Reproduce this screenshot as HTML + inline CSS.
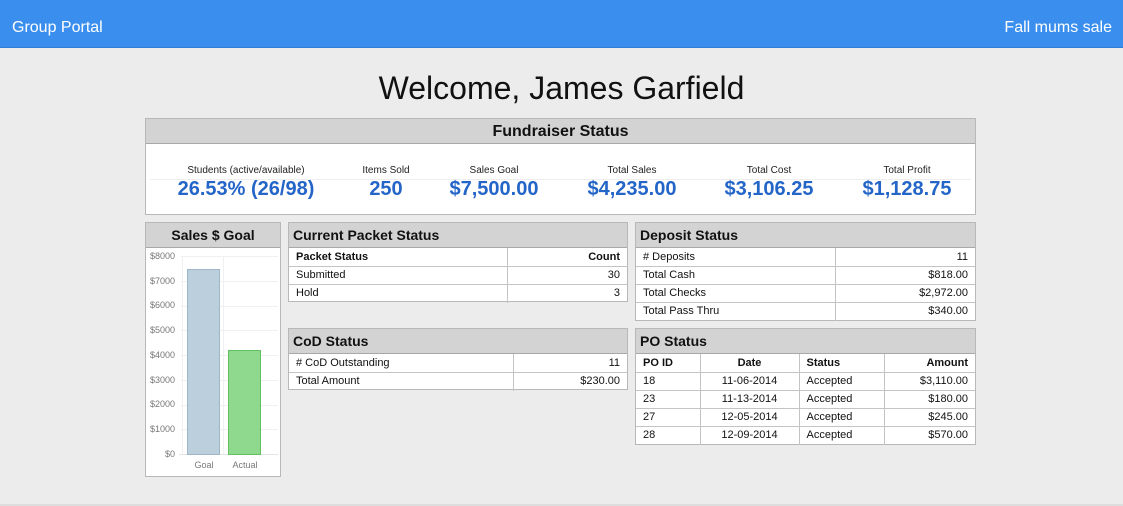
<!DOCTYPE html>
<html><head><meta charset="utf-8"><style>
*{margin:0;padding:0;box-sizing:border-box}
body{width:1123px;height:506px;background:#ececec;font-family:"Liberation Sans",sans-serif;position:relative;overflow:hidden;color:#111}
.top{position:absolute;left:0;top:0;width:1123px;height:48px;background:#3a8fee;color:#fff;font-size:16px;border-bottom:1px solid #2f7fd8}
.top .l{position:absolute;left:12px;top:19px}
.top .r{position:absolute;right:11px;top:19px}
h1{position:absolute;left:0;width:1123px;top:70px;text-align:center;font-weight:normal;font-size:32px;color:#111}
.box{position:absolute;background:#fff;border:1px solid #b8b8b8}
.hd{background:#d3d3d3;border-bottom:1px solid #a8a8a8;font-weight:bold;height:25px;line-height:25px;font-size:15px;padding-left:4px}
.c{text-align:center;padding-left:0;font-size:16px}
.st{position:absolute;top:46px;text-align:center;width:200px;margin-left:-100px}
.st .a{font-size:10px;color:#222}
.st .b{font-size:20px;font-weight:bold;color:#2465c8;margin-top:2px}
table{border-collapse:collapse;width:100%;table-layout:fixed;font-size:11px}
td{border:1px solid #c4c4c4;height:18px;padding:0 7px;line-height:17px;white-space:nowrap}
tr:first-child td{border-top:none;height:18px;line-height:18px}
td:first-child{border-left:none}
td:last-child{border-right:none}
tr:last-child td{border-bottom:none}
.rt{text-align:right}.cn{text-align:center}
.bh td{font-weight:bold}
.ax{position:absolute;font-size:9px;color:#777;text-align:right;width:30px}
</style></head><body>
<div class="top"><span class="l">Group Portal</span><span class="r">Fall mums sale</span></div>
<h1>Welcome, James Garfield</h1>

<div class="box" style="left:145px;top:118px;width:831px;height:97px">
<div class="hd c" style="font-size:16px">Fundraiser Status</div>
<div style="position:absolute;left:4px;right:4px;top:60px;border-top:1px solid #eee"></div>
<div class="st" style="left:100px"><div class="a">Students (active/available)</div><div class="b">26.53% (26/98)</div></div>
<div class="st" style="left:240px"><div class="a">Items Sold</div><div class="b">250</div></div>
<div class="st" style="left:348px"><div class="a">Sales Goal</div><div class="b">$7,500.00</div></div>
<div class="st" style="left:486px"><div class="a">Total Sales</div><div class="b">$4,235.00</div></div>
<div class="st" style="left:623px"><div class="a">Total Cost</div><div class="b">$3,106.25</div></div>
<div class="st" style="left:761px"><div class="a">Total Profit</div><div class="b">$1,128.75</div></div>
</div>

<div class="box" style="left:145px;top:222px;width:136px;height:255px">
<div class="hd c" style="font-size:14px">Sales $ Goal</div>
</div>
<svg style="position:absolute;left:0;top:0" width="1123" height="506">
<g stroke="#f0f0f0" stroke-width="1">
<line x1="181" y1="256.5" x2="278" y2="256.5"/><line x1="181" y1="281.5" x2="278" y2="281.5"/><line x1="181" y1="306.5" x2="278" y2="306.5"/><line x1="181" y1="330.5" x2="278" y2="330.5"/><line x1="181" y1="355.5" x2="278" y2="355.5"/><line x1="181" y1="380.5" x2="278" y2="380.5"/><line x1="181" y1="405.5" x2="278" y2="405.5"/><line x1="181" y1="429.5" x2="278" y2="429.5"/>
<line x1="182.5" y1="256" x2="182.5" y2="455"/><line x1="223.5" y1="256" x2="223.5" y2="455"/>
</g>
<line x1="179" y1="454.5" x2="278" y2="454.5" stroke="#e4e4e4"/>
<rect x="187.5" y="269.5" width="32" height="185" fill="#bccfdd" stroke="#9fb6c8"/>
<rect x="228.5" y="350.5" width="32" height="104" fill="#8fd98f" stroke="#62bf62"/>
</svg>
<div class="ax" style="left:145px;top:251px">$8000</div>
<div class="ax" style="left:145px;top:276px">$7000</div>
<div class="ax" style="left:145px;top:300px">$6000</div>
<div class="ax" style="left:145px;top:325px">$5000</div>
<div class="ax" style="left:145px;top:350px">$4000</div>
<div class="ax" style="left:145px;top:375px">$3000</div>
<div class="ax" style="left:145px;top:399px">$2000</div>
<div class="ax" style="left:145px;top:424px">$1000</div>
<div class="ax" style="left:145px;top:449px">$0</div>
<div class="ax" style="left:189px;top:460px;width:30px;text-align:center">Goal</div>
<div class="ax" style="left:227px;top:460px;width:36px;text-align:center">Actual</div>

<div class="box" style="left:288px;top:222px;width:340px;height:80px">
<div class="hd" style="font-size:14px">Current Packet Status</div>
<table><col style="width:218px"><col>
<tr class="bh"><td>Packet Status</td><td class="rt">Count</td></tr>
<tr><td>Submitted</td><td class="rt">30</td></tr>
<tr><td>Hold</td><td class="rt">3</td></tr></table>
</div>

<div class="box" style="left:288px;top:328px;width:340px;height:62px">
<div class="hd" style="font-size:14px">CoD Status</div>
<table><col style="width:224px"><col>
<tr><td># CoD Outstanding</td><td class="rt">11</td></tr>
<tr><td>Total Amount</td><td class="rt">$230.00</td></tr></table>
</div>

<div class="box" style="left:635px;top:222px;width:341px;height:99px">
<div class="hd" style="font-size:14px">Deposit Status</div>
<table><col style="width:199px"><col>
<tr><td># Deposits</td><td class="rt">11</td></tr>
<tr><td>Total Cash</td><td class="rt">$818.00</td></tr>
<tr><td>Total Checks</td><td class="rt">$2,972.00</td></tr>
<tr><td>Total Pass Thru</td><td class="rt">$340.00</td></tr></table>
</div>

<div class="box" style="left:635px;top:328px;width:341px;height:117px">
<div class="hd" style="font-size:14px">PO Status</div>
<table><col style="width:64px"><col style="width:99px"><col style="width:85px"><col>
<tr class="bh"><td>PO ID</td><td class="cn">Date</td><td>Status</td><td class="rt">Amount</td></tr>
<tr><td>18</td><td class="cn">11-06-2014</td><td>Accepted</td><td class="rt">$3,110.00</td></tr>
<tr><td>23</td><td class="cn">11-13-2014</td><td>Accepted</td><td class="rt">$180.00</td></tr>
<tr><td>27</td><td class="cn">12-05-2014</td><td>Accepted</td><td class="rt">$245.00</td></tr>
<tr><td>28</td><td class="cn">12-09-2014</td><td>Accepted</td><td class="rt">$570.00</td></tr></table>
</div>
<div style="position:absolute;left:0;top:504px;width:1123px;height:2px;background:#ddd"></div>
</body></html>
